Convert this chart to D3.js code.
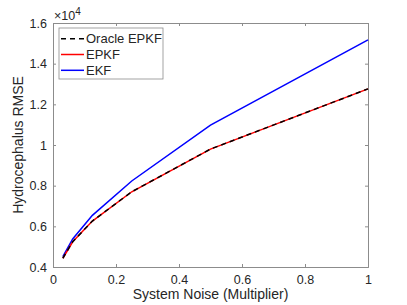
<!DOCTYPE html>
<html><head><meta charset="utf-8">
<script src="https://cdn.jsdelivr.net/npm/d3@7"></script>
<style>body{margin:0;background:#fff}svg{display:block}text{font-family:"Liberation Sans",Arial,sans-serif;fill:#262626}</style>
</head><body>
<svg id="c" width="407" height="305"></svg>
<script>
const noise = [0.03125, 0.0625, 0.125, 0.25, 0.5, 1];
const oracle = [4430, 5240, 6260, 7700, 9800, 12760];
const epkf = [4430, 5240, 6260, 7700, 9800, 12760];
const ekf = [4510, 5380, 6540, 8230, 10980, 15170];
const xTicks = [0, 0.2, 0.4, 0.6, 0.8, 1];
const yTicks = [4000, 6000, 8000, 10000, 12000, 14000, 16000];
const yTickLabels = ["0.4","0.6","0.8","1","1.2","1.4","1.6"];
const xTickLabels = ["0","0.2","0.4","0.6","0.8","1"];

const L=53, R=368, T=23, B=267;
const svg = d3.select("#c");
const x = d3.scaleLinear().domain([0,1]).range([L,R]);
const y = d3.scaleLinear().domain([4000,16000]).range([B,T]);
const axisCol = "#8c8c8c";

svg.append("rect").attr("x",L).attr("y",T).attr("width",R-L).attr("height",B-T).attr("fill","#fff");

const gx = svg.append("g").attr("transform",`translate(0,${B})`)
  .call(d3.axisBottom(x).tickValues(xTicks).tickSize(-3).tickPadding(8).tickFormat((d,i)=>xTickLabels[i]));
const gxt = svg.append("g").attr("transform",`translate(0,${T})`)
  .call(d3.axisTop(x).tickValues(xTicks).tickSize(-3).tickFormat(""));
const gy = svg.append("g").attr("transform",`translate(${L},0)`)
  .call(d3.axisLeft(y).tickValues(yTicks).tickSize(-3).tickPadding(6).tickFormat((d,i)=>yTickLabels[i]));
const gyr = svg.append("g").attr("transform",`translate(${R},0)`)
  .call(d3.axisRight(y).tickValues(yTicks).tickSize(-3).tickFormat(""));
[gx,gxt,gy,gyr].forEach(g=>{
  g.selectAll("path").attr("stroke",axisCol);
  g.selectAll("line").attr("stroke",axisCol);
  g.selectAll("text").style("font-size","12.5px").attr("fill","#262626").style("font-family","Liberation Sans, Arial, sans-serif");
});

const line = d3.line().x((d,i)=>x(noise[i])).y(d=>y(d));
const plot = svg.append("g");
plot.append("path").datum(ekf).attr("d",line).attr("fill","none").attr("stroke","#0000ff").attr("stroke-width",1.5);
plot.append("path").datum(epkf).attr("d",line).attr("fill","none").attr("stroke","#ff0000").attr("stroke-width",1.5);
plot.append("path").datum(oracle).attr("d",line).attr("fill","none").attr("stroke","#000").attr("stroke-width",1.5).attr("stroke-dasharray","5,4");

svg.append("text").attr("x",L+1).attr("y",T-3).style("font-size","12.5px").html('×10<tspan dy="-5" font-size="10px">4</tspan>');

svg.append("text").attr("x",(L+R)/2).attr("y",299).attr("text-anchor","middle").style("font-size","14px").text("System Noise (Multiplier)");
svg.append("text").attr("transform",`translate(23,${(T+B)/2}) rotate(-90)`).attr("text-anchor","middle").style("font-size","14px").text("Hydrocephalus RMSE");

// legend
const names = ["Oracle EPKF","EPKF","EKF"];
const cols = ["#000","#ff0000","#0000ff"];
const dash = ["5,4",null,null];
const lg = svg.append("g");
lg.append("rect").attr("x",59).attr("y",28).attr("width",104).attr("height",51).attr("fill","#fff").attr("stroke",axisCol).attr("stroke-width",0.8);
names.forEach((n,i)=>{
  const yy = 38.7 + i*15.8;
  lg.append("line").attr("x1",61).attr("x2",84).attr("y1",yy).attr("y2",yy).attr("stroke",cols[i]).attr("stroke-width",1.5).attr("stroke-dasharray",dash[i]);
  lg.append("text").attr("x",86).attr("y",yy+4.5).style("font-size","13px").text(n);
});
</script>
</body></html>
